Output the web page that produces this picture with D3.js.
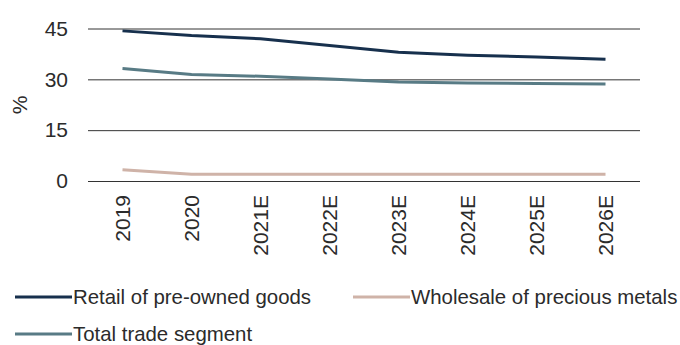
<!DOCTYPE html>
<html>
<head>
<meta charset="utf-8">
<script src="https://cdn.jsdelivr.net/npm/d3@7"></script>
<style>
  body { margin: 0; background: #fff; }
  svg text { font-family: 'Liberation Sans', Arial, sans-serif; fill: #2b2b2b; }
</style>
</head>
<body>
<script>
const years = ['2019', '2020', '2021E', '2022E', '2023E', '2024E', '2025E', '2026E'];
const retail = [44.3, 42.9, 42.0, 40.0, 38.0, 37.1, 36.6, 35.9];
const wholesale = [3.3, 2.0, 2.0, 2.0, 2.0, 2.0, 2.0, 2.0];
const total = [33.2, 31.4, 30.9, 30.1, 29.2, 28.9, 28.8, 28.6];
const yTicks = [0, 15, 30, 45];

const svgWidth = 680;
const svgHeight = 345;
const plotLeft = 88;
const plotRight = 640;
const plotTop = 28.5;
const plotBottom = 181;
const fontSize = '21px';

const svg = d3
  .select('body')
  .append('svg')
  .attr('width', svgWidth)
  .attr('height', svgHeight);

const xScale = d3.scalePoint().domain(years).range([plotLeft, plotRight]).padding(0.5);
const yScale = d3.scaleLinear().domain([0, 45]).range([plotBottom, plotTop]);

// GRID + Y AXIS
const yAxis = svg
  .append('g')
  .attr('transform', `translate(${plotLeft},0)`)
  .call(
    d3.axisLeft(yScale)
      .tickValues(yTicks)
      .tickSize(-(plotRight - plotLeft))
      .tickPadding(20)
  );
yAxis.select('.domain').remove();
yAxis.selectAll('line').attr('stroke', '#333').attr('stroke-width', 1);
yAxis.selectAll('text').style('font-size', fontSize);

// X AXIS
const xAxis = svg
  .append('g')
  .attr('transform', `translate(0,${plotBottom})`)
  .call(d3.axisBottom(xScale).tickSize(0));
xAxis.select('.domain').remove();
xAxis
  .selectAll('text')
  .style('font-size', fontSize)
  .attr('text-anchor', 'end')
  .attr('transform', 'rotate(-90)')
  .attr('x', -14)
  .attr('y', 0)
  .attr('dy', '0.35em');

// Y LABEL
svg
  .append('text')
  .attr('transform', 'translate(20,105) rotate(-90)')
  .attr('text-anchor', 'middle')
  .attr('dy', '0.35em')
  .style('font-size', fontSize)
  .text('%');

// LINES
const series = [
  { name: 'Retail of pre-owned goods', values: retail, color: '#17304d' },
  { name: 'Wholesale of precious metals', values: wholesale, color: '#cfb3a8' },
  { name: 'Total trade segment', values: total, color: '#587b85' }
];

const line = d3
  .line()
  .x((d, i) => xScale(years[i]))
  .y(d => yScale(d));

svg
  .selectAll('path.series')
  .data(series)
  .enter()
  .append('path')
  .attr('class', 'series')
  .attr('fill', 'none')
  .attr('stroke', d => d.color)
  .attr('stroke-width', 3)
  .attr('d', d => line(d.values));

// LEGEND
const legendPos = [
  { x: 15, y: 297 },
  { x: 353, y: 297 },
  { x: 15, y: 334 }
];

const legend = svg
  .selectAll('g.legend')
  .data(series)
  .enter()
  .append('g')
  .attr('class', 'legend')
  .attr('transform', (d, i) => `translate(${legendPos[i].x},${legendPos[i].y})`);

legend
  .append('line')
  .attr('x1', 0)
  .attr('x2', 57)
  .attr('stroke', d => d.color)
  .attr('stroke-width', 3);

legend
  .append('text')
  .attr('x', 58)
  .attr('dy', '0.35em')
  .style('font-size', '20.4px')
  .text(d => d.name);
</script>
</body>
</html>
